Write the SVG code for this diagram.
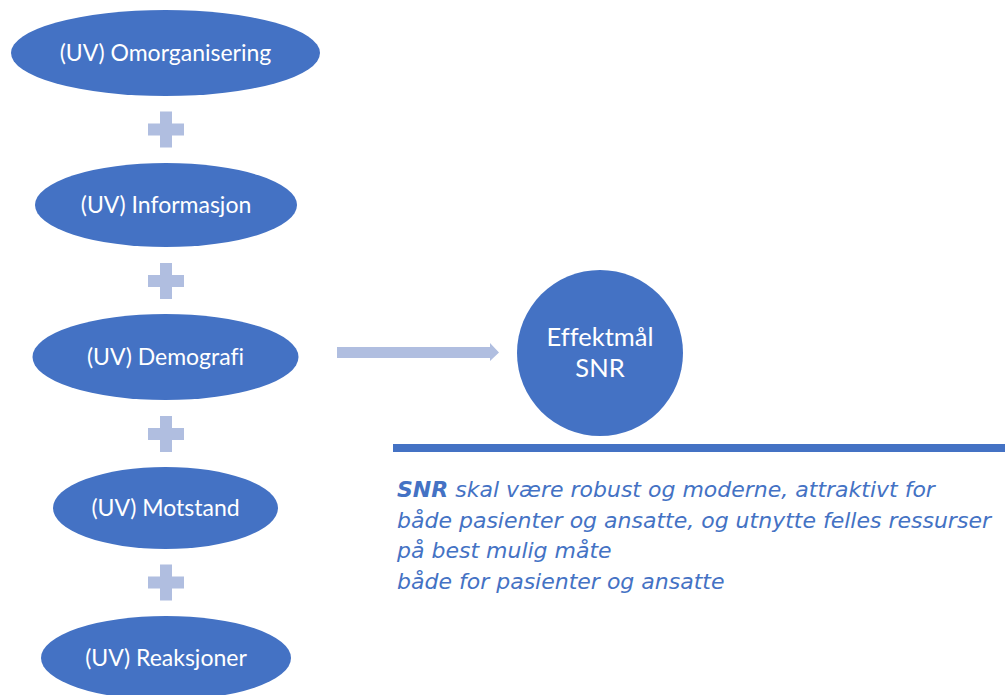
<svg xmlns="http://www.w3.org/2000/svg" width="1005" height="695" viewBox="0 0 1005 695">
<style>
.node{fill:#4472C4}
.lbl{fill:#fff;font-family:Lato,"Open Sans",sans-serif;font-size:23px;text-anchor:middle;font-variant-ligatures:none}
.big{font-size:25.5px}
.plus{fill:#B0BEE0}
.body{fill:#4472C4;font-family:"DejaVu Sans",Verdana,sans-serif;font-style:italic;font-size:22px}
</style>
<defs>
<path id="plus" d="M-6,-18H6V-6H18V6H6V18H-6V6H-18V-6H-6Z"/>
</defs>
<rect width="1005" height="695" fill="#fff"/>
<g id="n1"><ellipse class="node" cx="165.5" cy="53" rx="154.5" ry="43"/><text class="lbl" x="165.5" y="61">(UV) Omorganisering</text></g>
<g id="n2"><ellipse class="node" cx="166" cy="205" rx="131" ry="42"/><text class="lbl" x="166" y="213">(UV) Informasjon</text></g>
<g id="n3"><ellipse class="node" cx="165.5" cy="357" rx="133" ry="43"/><text class="lbl" x="165.5" y="365">(UV) Demografi</text></g>
<g id="n4"><ellipse class="node" cx="165.5" cy="508" rx="112.5" ry="41"/><text class="lbl" x="165.5" y="516">(UV) Motstand</text></g>
<g id="n5"><ellipse class="node" cx="166" cy="658" rx="125" ry="42"/><text class="lbl" x="166" y="666">(UV) Reaksjoner</text></g>
<g id="n6"><circle class="node" cx="600" cy="353" r="83"/><text class="lbl big" x="600" y="346">Effektmål</text><text class="lbl big" x="600" y="377">SNR</text></g>
<g id="connectors">
<use href="#plus" class="plus" x="166" y="129.5"/>
<use href="#plus" class="plus" x="166" y="281"/>
<use href="#plus" class="plus" x="166" y="434"/>
<use href="#plus" class="plus" x="166" y="582.5"/>
<path class="plus" d="M337,347H490V343L499,352.5L490,361V358H337Z"/>
</g>
<rect x="393" y="444" width="612" height="8" fill="#4472C4"/>
<g id="text">
<text class="body" x="397" y="497"><tspan font-weight="bold">SNR</tspan> skal være robust og moderne, attraktivt for</text>
<text class="body" x="397" y="528">både pasienter og ansatte, og utnytte felles ressurser</text>
<text class="body" x="397" y="558">på best mulig måte</text>
<text class="body" x="397" y="589">både for pasienter og ansatte</text>
</g>
</svg>
